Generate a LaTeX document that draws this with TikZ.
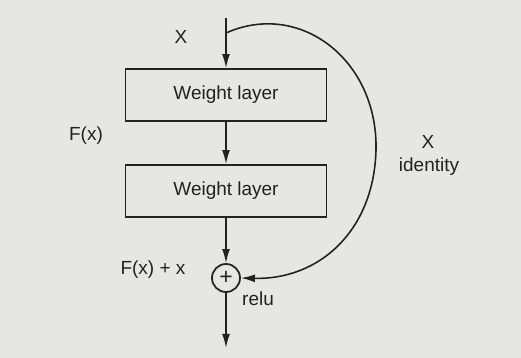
\documentclass[tikz,border=0pt]{standalone}
\usepackage{fontspec}
\setmainfont{Liberation Sans}
\usepackage{tikz}
\usetikzlibrary{positioning,arrows.meta,calc}
\definecolor{paper}{RGB}{230,230,228}
\definecolor{ink}{RGB}{34,34,34}

\begin{document}
\begin{tikzpicture}[x=0.02cm, y=-0.02cm,
    every node/.style={font=\fontsize{10.8}{13}\selectfont, text=ink},
    layer/.style={draw=ink, line width=1pt, minimum width=201*0.02cm, minimum height=52*0.02cm, inner sep=0pt},
    flow/.style={draw=ink, line width=0.9pt, -{Latex[length=8pt,width=4.5pt]}}]
  \fill[paper] (0,0) rectangle (521,358);
  \useasboundingbox (0,0) rectangle (521,358);
  % the main path
  \coordinate (in) at (226,18);
  \coordinate (branch) at (226,33);
  \node[layer] (wl1) at (226,95) {Weight layer};
  \node[layer] (wl2) at (226,191) {Weight layer};
  \node[circle, draw=ink, line width=1pt, minimum size=28*0.02cm, inner sep=0pt,
        font=\fontsize{13}{13}\selectfont] (add) at (226,278) {+};
  \coordinate (out) at (226,348);
  \draw[flow] (in) -- (wl1.north);
  \draw[flow] (wl1.south) -- (wl2.north);
  \draw[flow] (wl2.south) -- (add.north);
  \draw[flow] (add.south) -- (out);
  % identity shortcut
  \draw[flow] (branch) .. controls (300,0) and (378,60) .. (376,150)
                       .. controls (374,230) and (320,280) .. (add.east);
  % labels
  \node (xin) at (181,37) {X};
  \node (fx) at (86,136) {F(x)};
  \node (fxx) at (153,270) {F(x) + x};
  \node (relu) at (258,299) {relu};
  \node (xid) at (428,142) {X};
  \node (ident) at (429,167) {identity};
\end{tikzpicture}
\end{document}
